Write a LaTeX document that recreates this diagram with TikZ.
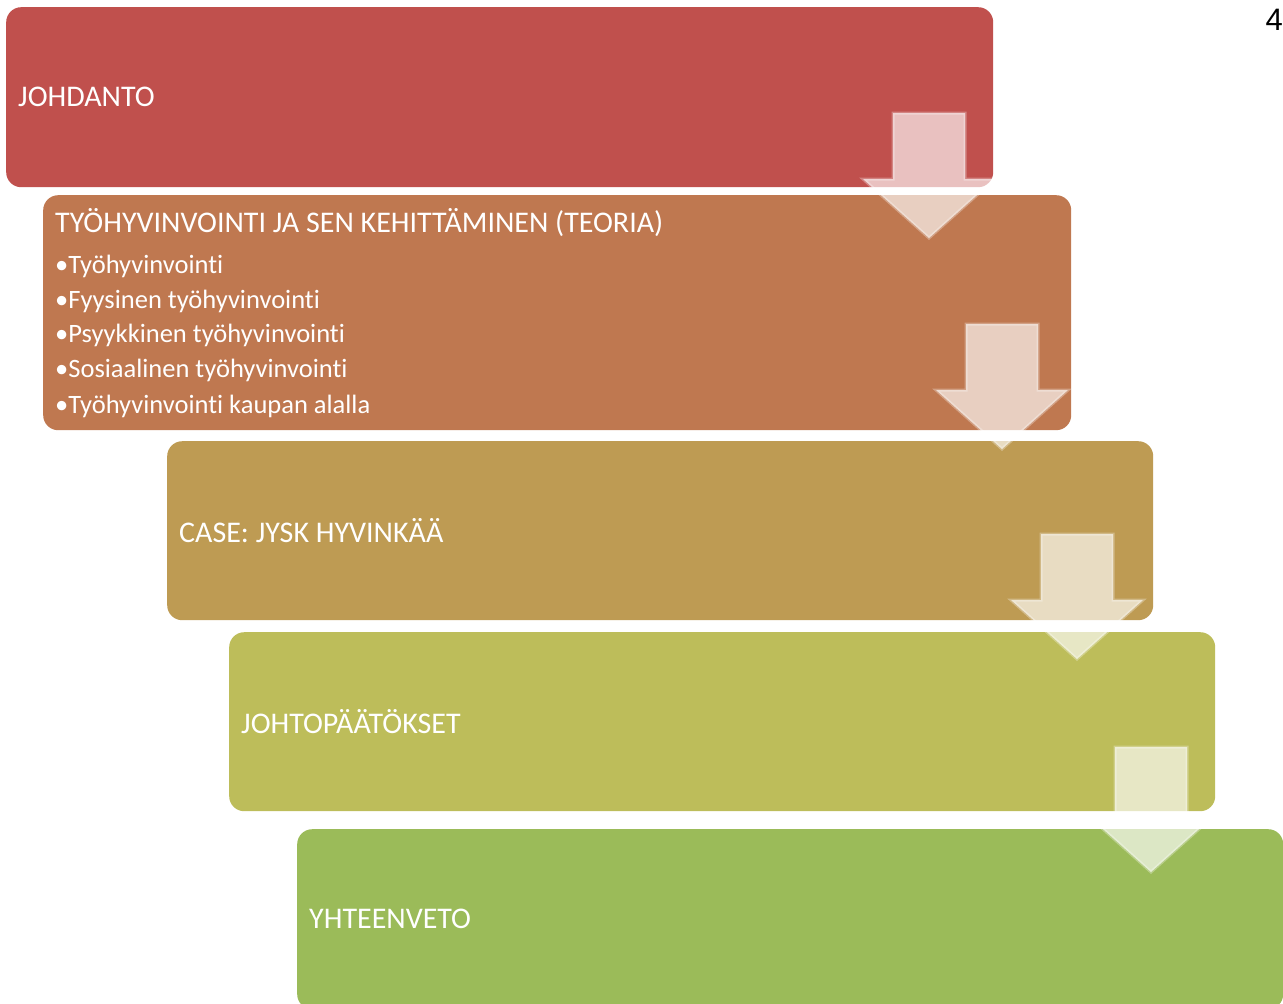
\documentclass[tikz,border=0pt]{standalone}
\usepackage{fontspec}
\setmainfont{Carlito}[Ligatures=NoCommon]
\newfontfamily\pagefont{Liberation Sans}
\definecolor{stageA}{HTML}{C0504D}
\definecolor{stageB}{HTML}{BF7850}
\definecolor{stageC}{HTML}{BE9B53}
\definecolor{stageD}{HTML}{BDBD5A}
\definecolor{stageE}{HTML}{9BBB59}
\tikzset{
  stagebox/.style={rectangle, rounded corners=15pt, anchor=north west, inner xsep=12pt, inner ysep=0pt,
    align=flush left, text=white, font=\frenchspacing\fontsize{30}{36}\selectfont},
  blockarrow/.style={fill=white, fill opacity=0.65, draw=white, draw opacity=0.3, line width=3pt, line join=miter}
}

\begin{document}
\begin{tikzpicture}[x=1pt,y=-1pt]
\useasboundingbox (0,0) rectangle (1283,1004);

% stages
\node[stagebox, fill=stageA, minimum height=180pt, text width=963pt] (johdanto) at (6,7) {JOHDANTO};
\node[stagebox, fill=stageB, minimum height=235pt, text width=1004pt] (teoria) at (43,195)
  {TYÖHYVINVOINTI JA SEN KEHITTÄMINEN (TEORIA)\\[7pt]
   {\fontsize{26.5}{34.5}\selectfont •Työhyvinvointi\\
   •Fyysinen työhyvinvointi\\
   •Psyykkinen työhyvinvointi\\
   •Sosiaalinen työhyvinvointi\\
   •Työhyvinvointi kaupan alalla}};
\node[stagebox, fill=stageC, minimum height=179pt, text width=962pt] (case) at (167,441) {CASE: JYSK HYVINKÄÄ};
\node[stagebox, fill=stageD, minimum height=179pt, text width=962pt] (johtopaatokset) at (229,632) {JOHTOPÄÄTÖKSET};
\node[stagebox, fill=stageE, minimum height=180pt, text width=962pt] (yhteenveto) at (297,829) {YHTEENVETO};

% arrows between stages
\filldraw[blockarrow] (893,113) -- (965,113) -- (965,179) -- (995,179) -- (929,238) -- (863,179) -- (893,179) -- cycle;
\filldraw[blockarrow] (966,324) -- (1038,324) -- (1038,390) -- (1068,390) -- (1002,449) -- (936,390) -- (966,390) -- cycle;
\filldraw[blockarrow] (1041,534) -- (1113,534) -- (1113,600) -- (1143,600) -- (1077,659) -- (1011,600) -- (1041,600) -- cycle;
\filldraw[blockarrow] (1115,747) -- (1187,747) -- (1187,813) -- (1217,813) -- (1151,872) -- (1085,813) -- (1115,813) -- cycle;

\node[anchor=base east, inner sep=0pt, font=\pagefont\fontsize{31}{36}\selectfont] (sivu) at (1283,30) {4};
\end{tikzpicture}
\end{document}
